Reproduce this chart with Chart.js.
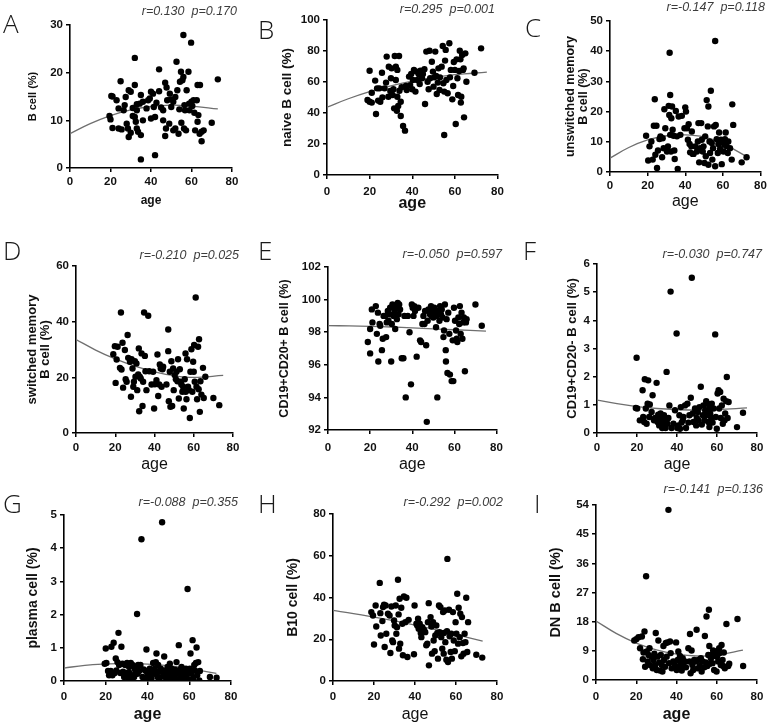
<!DOCTYPE html>
<html lang="en">
<head>
<meta charset="UTF-8">
<title>B cell subsets vs age</title>
<script src="https://cdn.jsdelivr.net/npm/chart.js"></script>
<style>
  body { margin: 0; background: #fff; }
  #fig { position: relative; width: 770px; height: 726px; overflow: hidden; }
  #fig canvas { position: absolute; }
</style>
</head>
<body>
<div id="fig">
  <canvas id="cA"></canvas><canvas id="cB"></canvas><canvas id="cC"></canvas>
  <canvas id="cD"></canvas><canvas id="cE"></canvas><canvas id="cF"></canvas>
  <canvas id="cG"></canvas><canvas id="cH"></canvas><canvas id="cI"></canvas>
</div>
<script>
// --- data (age, percentage) ---
var ageA = [19.5,20.4,21,20,21,23,24,24,25,25.5,26.5,27,27.5,28,28.6,29,29,30,30,31,31,32,32,32,32.5,33,33,33,33.6,34.4,35,35,35,36,36,37.8,38.6,39.4,40,40,41,41.4,42,42,42.7,44,44,45,46,46,47,47,47.4,47.7,48,49,49.3,49.8,50,51,51,52,52,52.6,53,53.6,54,54.3,54.8,55,55.5,56,56,56.3,56.5,56.8,57.3,57.6,58.5,58.8,59,59.8,60,60.4,61,61.4,61.8,62.6,63,63,63.4,64,64.2,65,65,66,70,73];
var valA = [10.9,15.1,15,10.2,8.4,14.2,8.3,12.5,18.2,8.1,12.1,13.2,14.9,9.3,8.3,6.5,16.3,16,7.4,10.9,12.6,23.1,17.4,10.7,9.7,8.3,13.4,12.1,7.6,13.5,6.9,1.8,15.3,10,13.9,12.5,14.2,14.6,16,10.4,15.6,12.8,2.7,10.7,13.7,16.1,20.7,12.7,10,12.1,6.7,17.9,8.3,16.9,14.2,9.3,15.6,14.4,12.8,7.9,13.9,14.9,8.3,22.3,16.3,7.2,12.3,18.1,20.2,9.5,18.4,27.9,19.1,8.3,13.2,12.1,7.9,16.3,20.2,13.5,12.1,26.3,13.9,13,14.2,11.6,7.9,14.2,9.7,17.4,11.1,7.2,17.4,7.6,5.6,7.9,9.5,18.6];

var ageB = [20,19,20,21,21,22.6,23,23.5,24,24.6,25,25.8,26,27,27.7,28,28.8,29,29.7,30,30.3,30.8,31.2,31.5,31.8,32.3,32.3,32.8,33,33,33.4,33.8,34,34.6,34.6,35,35.7,36.6,37,37.4,38.5,39,39.5,40,40.3,40.8,41.5,42,42.3,43,43.5,43.8,44.6,45,45.7,46,46.6,47.2,47.7,48.1,48.4,49.2,49.7,50,50.3,50.8,51.2,51.5,52,52.3,52.8,53,53.8,54.3,54.6,55,55,55.4,55.7,56,56.6,57.4,57.7,58.1,58.8,59.2,59.5,60,60.4,60.8,61.2,61.5,62,62.3,62.6,62.8,63,63.4,63.8,64.1,64.3,64.9,65.4,69.2,72.3];
var valB = [67.3,48.4,47.3,53.1,46.7,60.9,39.4,55.9,48,55.9,47.3,66,50.1,55.9,59.6,76.4,50.5,69.9,54.2,62.4,68.8,51.6,55.3,43,76.8,69.9,61.3,41.5,67.8,50.5,44.5,76.8,54.4,47.3,38.1,56.6,31.6,28.6,57.4,54.8,63.5,58,65.2,55.3,61.3,67.8,53.8,66.7,61.3,65.2,58.7,67.3,62.4,65.2,68.2,45.8,79.6,60.2,55.3,80.2,62.4,73.1,66.7,57,63,79.6,63.9,52.3,59.6,68.8,54.8,63,69.9,83.2,59.2,53.8,25.8,73.8,80.7,61.3,52.7,85,63,67.8,48.8,57.4,72.9,67.8,32.9,74.6,62.4,51.6,67.1,80.2,74.6,46.7,50.5,77.4,67.8,68.8,37.2,78.5,60.2,66,81.7];

var ageC = [19.2,20.3,21,22,22.7,23.3,23.8,24.1,24.7,25,25.5,26.3,26.8,27.7,28,28.5,28.9,29.4,29.8,30.3,30.8,31.2,31.5,31.7,32,32,32.4,32.6,33,33.3,33.8,34.2,34.4,35,35.6,36,36.5,37.4,38.2,39.6,40,40.4,40.9,41.4,41.8,42.3,42.6,43.2,43.5,44,44.4,45.3,46.2,46.7,47,47.4,47.9,48.5,48.8,49.3,49.7,50.2,50.6,50.9,51.4,52,52.3,52.3,52.9,53.2,53.6,54.1,54.4,54.8,55.3,55.9,55.9,56.2,56.7,57.3,57.6,58,58.5,59,59.4,59.7,60.3,60.8,61.1,61.5,62,62.6,62.9,63.8,64.7,65,65.5,70,72.6];
var valC = [12,3.8,8.5,10.1,4.1,15.3,24.1,5.7,15.3,1.3,7.1,10.9,11.8,4.9,11.2,7.9,20.8,14.5,7.6,6.8,8.5,21.9,18.9,39.5,25.5,12.3,6.8,17.8,21.7,14,12,7.1,4.3,20.2,11.8,1,18.4,12.3,18.6,14.5,21.4,20,14.5,10.7,15.8,9.3,6.5,8.5,13.4,6,6,8.5,6.8,10.1,16.2,3.2,7.9,16.2,10.7,6.8,8.5,3,11.8,5.2,23.8,15.1,21.7,2.4,10.1,6.3,26.9,9.6,4.1,7.9,15.1,43.4,1.9,15.6,10.9,6.3,9.3,13.1,7.6,10.7,2.6,9.8,6.8,9,10.9,13.1,8.5,6.3,10.1,7.9,4.1,22.4,15.6,3.2,4.9];

var ageD = [19,19.8,20.2,20.7,21.2,22.4,22.9,23.2,23.7,24,24.9,25.3,25.8,26.3,26.6,27.5,28,28.3,28.8,29.2,29.5,30,30.3,30.8,31.2,31.7,32,32.2,32.5,33,33.4,33.9,34.2,34.7,35.1,35.4,35.9,36.8,37.3,38.5,39.3,39.8,40.2,41,41.5,41.9,42.4,42.7,43.2,43.6,44.1,44.4,46.1,47,47,47.3,47.8,48.1,48.6,49,49.5,49.8,50.3,50.9,51.2,51.7,52,52.4,52.9,53.2,53.7,54.2,54.6,54.9,55.4,55.8,55.9,56.3,56.6,57.1,57.6,58,58.3,58.8,59.3,59.7,60,60.2,60.5,61,61.4,61.7,62.2,62.5,62.7,63.1,63.4,63.9,64.7,65.1,65.9,70,73];
var valD = [28.3,31.2,18,26.4,31,23.4,43.3,22.8,32.4,16.3,29.8,19.3,18.4,35.2,27,25.6,13,26.5,23.2,16.6,18.4,25.8,20.2,25,15.4,21,30.4,7.8,20.2,19.6,28.6,9.7,18.4,43.3,27.7,22.2,15.4,42.1,22.2,17.4,22,8.8,17.5,19,28.2,13.3,17.4,24.6,23.2,16.6,22.9,23.8,17.4,37.2,29.4,11.4,22,9.4,25.8,9.7,23.2,15.4,20.8,19.3,22,18.6,26.5,12.4,22.9,18.4,17.4,14.8,16.6,8.8,19.3,28.6,14.8,12.1,26.5,16.6,15.4,5.4,22,30.1,14.8,25.6,22,31.6,18.4,48.7,16.6,12.1,31,15.7,33.7,7.6,18.6,13.8,23.4,12.6,20.2,12.6,10];

var ageE = [18.9,20,20,20.8,21.1,22.7,23.2,23.7,23.9,24.5,24.8,25.6,26,26.4,27.1,27.6,27.9,28.4,28.7,29.2,29.5,30,30.3,30.6,31.1,31.6,31.9,32.3,32.7,33.1,33.5,33.8,34.2,35,35.8,36.3,36.9,37.9,38.7,39.4,39.8,40.2,40.6,41,41.3,42.1,42.9,43.7,44.2,44.8,45.3,45.8,46.1,46.6,46.9,47.3,47.7,48.4,48.9,49.2,49.7,50,50.5,50.8,51.3,51.6,51.9,52.4,52.9,53.2,53.6,54,54.4,54.8,55.1,55.5,55.9,56,56.3,56.7,57.1,57.6,57.9,58.7,59.2,59.5,59.8,60.3,60.8,61.1,61.4,61.9,62.3,62.6,63,63.4,63.8,64.2,64.5,65,65.5,65.8,70,73];
var valE = [97.4,98.2,96.7,99.4,98.6,99.6,97.9,99.2,96.2,98.5,98.4,96.9,97.6,99,99,97.7,98.6,99.3,98.7,99.1,99.5,96.2,98.5,99.7,99,99.3,98.2,99.5,98.8,99.8,99.1,99.7,99.4,96.4,96.4,99,94,99,98,94.8,99.7,99.5,99,99.6,99.3,96.5,99.5,97.5,97.4,98.5,99,98.5,99.3,97.2,92.5,98.7,99.4,99.1,99.6,99,99.4,98.9,99.5,99.2,98.3,99,94,99.3,98.7,99.6,99.1,99.4,98.9,97.7,98.1,99.7,96.9,96.2,98.8,95.5,99.2,97.9,95.4,95,97.5,95,99.5,98.7,98.1,97.6,97.4,98.9,98.5,99.6,97.9,99.2,97.6,98.6,98.9,95.6,98.6,98.8,99.7,98.4];

var ageF = [19.8,19.4,20.1,21.4,22.8,23.1,23.6,23.9,24.4,24.8,25.3,25.6,26.1,26.4,27.3,27.8,28.5,29,29.8,30.3,30.6,31.1,31.5,31.8,32.3,32.6,33.1,33.5,34,34.3,34.8,35.2,35.7,36.2,36.8,37.3,38.2,39,39.8,40.2,40.7,41.2,41.5,41.9,42.3,42.9,43.2,44,44.5,45.2,45.7,46.2,46.9,47.4,47.9,48.2,49,49.6,49.9,50.4,50.7,51.2,51.9,52.4,52.9,53.2,53.7,54.1,54.6,54.9,55.2,55.7,56.1,56.2,56.6,57.1,57.4,57.8,58.3,59.1,59.4,59.9,60.3,60.8,61.1,61.6,61.9,62.4,62.9,63.3,63.8,64.1,64.6,64.9,65.3,65.8,70,73];
var valF = [2.67,0.89,0.87,0.45,1.52,0.57,0.39,1.91,0.87,0.33,1.04,1.87,0.57,1.01,0.75,1.34,0.45,0.53,1.78,0.39,0.65,0.27,0.53,0.69,0.33,0.18,0.51,0.63,0.39,0.18,2.17,0.33,0.53,0.98,5.02,0.18,0.33,0.81,3.53,0.18,0.27,0.63,0.15,0.92,0.37,0.45,0.57,0.98,0.18,1.04,0.37,0.63,1.25,5.51,0.69,0.39,0.87,0.27,0.53,0.75,0.45,0.92,1.64,0.3,0.63,0.98,0.45,0.81,1.13,0.63,1.04,0.39,0.87,0.21,0.69,0.53,1.04,0.37,0.87,3.5,0.57,0.15,1.4,1.52,0.87,1.46,0.53,0.98,0.33,1.22,0.45,0.69,1.13,1.99,0.53,1.1,0.21,0.72];

var ageG = [19.5,20,20.3,21.1,21.6,22.4,22.7,23.2,23.8,24.3,24.8,25.1,25.6,26.1,26.4,27,27.5,28,28.3,28.8,29.3,29.9,30.2,30.7,31.2,31.5,32,32.3,32.8,33.1,33.6,33.9,34.4,35,35.2,35.5,36,36.6,37.1,37.6,38.2,38.7,39.2,39.5,40,40.3,40.8,41.1,41.6,41.9,42.4,42.7,43.2,43.5,44,44.3,44.8,45.1,45.6,45.9,46.4,47,47.5,48,48.3,48.8,49.1,49.6,49.9,50.4,50.7,51.2,51.5,52,52.3,52.8,53.1,53.6,53.9,54.4,54.7,55,55.5,55.8,56.3,56.6,57.1,57.6,57.9,58.4,58.7,59.2,59.5,60,60.3,60.6,61.1,61.6,61.9,62.4,62.7,63.2,63.5,63.8,64.3,64.8,65.1,69.9,73.1];
var valG = [0.52,0.98,0.54,0.3,0.17,0.3,1.03,0.17,1.15,0.24,0.68,0.32,0.57,1.45,0.48,0.24,1.03,0.52,0.28,0.12,0.48,0.24,0.54,0.1,0.42,0.24,0.54,0.07,0.48,0.17,0.12,0.37,0.24,2.02,0.22,0.48,0.3,0.48,4.27,0.12,0.35,0.04,0.3,0.95,0.17,0.24,0.12,0.37,0.22,0.07,0.32,0.54,0.22,0.37,0.57,0.83,0.12,0.48,0.28,0.1,0.37,4.78,0.24,0.74,0.12,0.32,0.2,0.42,0.07,0.28,0.52,0.17,0.37,0.12,0.28,0.17,0.34,0.04,0.57,0.22,0.04,1.08,0.34,0.12,0.42,0.24,0.07,0.3,0.17,0.37,0.12,2.77,0.24,0.04,0.37,0.83,0.22,1.23,0.07,0.48,0.32,0.54,1.01,0.17,0.57,0.02,0.3,0.12,0.1];

var ageH = [18.7,19.5,20,20.8,21.1,22.8,23.1,23.3,24.1,24.4,24.9,25.2,25.7,26,26.8,27.6,28,28.5,28.9,29.3,29.8,30.1,30.6,30.9,31.2,31.7,32,32.2,32.5,32.8,33.3,33.8,34.1,34.6,35.3,35.8,36.3,36.9,39.5,39.8,40.7,41.1,41.5,41.8,42.3,42.8,43.1,43.6,44.4,45,45.5,46,46.3,46.7,46.8,47.6,48,48.3,48.8,49.1,49.6,49.9,50.4,50.9,51.2,51.7,52,52.4,52.8,53.3,53.7,54,54.1,54.5,54.8,55.3,55.6,55.8,56.1,56.6,56.9,57.4,57.7,58,58.5,58.9,59.4,59.8,60.2,60.6,61,61.3,61.8,62.1,62.6,62.9,63.4,63.7,64.2,64.6,65,65.5,65.9,69.9,72.8];
var valH = [33,31.4,17.5,36.2,26.1,47,32.5,21.8,28.7,35.4,36.5,16.3,36.2,22.6,32.2,31.4,13.4,35.7,19.4,18.6,29,26.6,36.2,22.6,25.8,48.5,31.9,15.5,39.4,17.9,35.1,27.4,12.3,40.5,28.2,39.9,11.5,29.3,12.8,36.2,27.4,26.6,29.8,25,27.4,23,21,25.8,24.5,23.4,17.1,17.9,28.2,37.3,7.5,30.6,26.1,13.1,28.2,19.4,14.3,21.8,26.6,23,10.7,36.2,23.4,35.4,21,15.5,33,13.1,23,33.8,18.6,10.2,23.8,58.5,9.1,34.1,21.4,13.9,22.6,10.7,33,19.4,14.3,28.2,22.6,41.8,17.9,35.1,21,32.2,11.8,30.6,18.2,13.1,22.6,18.6,39.9,13.9,28.2,12.6,11.2];

var ageI = [19,20,21.1,21.9,22.8,23.3,23.6,24.1,24.4,24.9,25.2,25.7,26.1,26.6,26.9,27.7,28.2,28.5,29,29.4,29.7,30.2,30.5,31,31.4,31.8,32.2,32.7,33,33.5,33.8,34.3,34.7,35.1,35.5,36,36.3,36.8,37.1,37.6,38.4,39.3,39.8,40.1,40.6,40.9,41.4,41.7,42.2,42.6,43.1,43.4,44.2,44.7,45.9,46.4,46.7,47,47.5,47.9,48.3,48.8,49.7,50,50.5,50.8,51.6,52.1,52.5,53,53.8,54.1,54.6,54.9,55.3,55.8,56.1,56.3,56.6,57.1,57.4,57.9,58.2,58.7,59.1,59.6,59.9,60.2,60.7,61.2,61.5,62,62.4,62.9,63.2,63.5,64,64.8,65.7,66.2,70.3,73.1];
var valI = [12.2,12.6,13.2,9.8,13.4,6.4,8.5,15,4.1,32,8.8,5.7,7.7,9.8,4.6,7.2,3.6,6.2,8.1,4.6,14.5,3.1,7.2,12.2,5.4,2.9,7.7,4.6,2.6,10.5,6.2,4.1,11.4,7.2,11.6,52.5,5.2,11.9,8.3,3.6,5.7,4.6,11.6,3.1,6.2,8.8,4.1,7.4,5.2,2.9,6.7,4.6,5.7,3.9,9.8,5.7,14.2,2.1,9.1,4.6,3.1,6.2,5.7,15.5,3.6,6.2,4.3,6.7,2.6,5.7,3.9,13.6,5.4,19.6,4.3,7.7,21.7,10.5,5,6.7,7.7,5.2,9.1,3.1,7.4,8.8,2.6,7.2,5.7,9.8,8.3,4.6,10.8,6.2,4.3,8.5,3.6,17.3,4.3,5,18.8,4.3];

// fitted curves, read at these ages
var fitAgeShort = [0,10,20,30,40,50,60,73];
var fitAgeLong  = [0,10,20,30,40,50,60,75];
var fitA = [7.2,9.3,11.0,12.2,12.9,13.2,13.0,12.4];
var fitB = [43.7,49.2,53.8,57.5,60.5,62.9,64.7,66.4];
var fitC = [4.6,8.1,10.6,12.0,12.3,11.6,9.4,5.0];
var fitD = [33.6,29.8,26.6,24.0,22.0,20.6,20.0,20.7];
var fitE = [98.40,98.39,98.36,98.32,98.27,98.21,98.15,98.07];
var fitF = [1.17,1.04,0.94,0.87,0.83,0.81,0.83,0.89];
var fitG = [0.39,0.47,0.51,0.53,0.51,0.46,0.37,0.23];
var fitH = [33.8,32.3,30.6,28.8,26.8,24.6,22.2,19.1];
var fitI = [18.2,14.4,11.4,9.3,8.0,7.4,7.7,9.2];

var statsText = ['r=0.130  p=0.170','r=0.295  p=0.001','r=-0.147  p=0.118',
                 'r=-0.210  p=0.025','r=-0.050  p=0.597','r=-0.030  p=0.747',
                 'r=-0.088  p=0.355','r=-0.292  p=0.002','r=-0.141  p=0.136'];

// --- layout (page pixels) ---
var cols = [{left: 0, w: 255}, {left: 255, w: 255}, {left: 510, w: 260}];
var rows = [{top: 0, h: 235}, {top: 235, h: 245}, {top: 480, h: 246}];

var panels = [
  {id:'A', col:0, row:0, ages:ageA, vals:valA, fx:fitAgeShort, fy:fitA, yMin:0, yMax:30, yStep:10,
   yTitle:'B cell (%)', ySize:11, area:[70,25,232,168], yTitleX:33, tickY:182, ageY:201, ageFont:{size:12, weight:'bold'},
   statX:237, statY:12, letterX:3, letterY:33},
  {id:'B', col:1, row:0, ages:ageB, vals:valB, fx:fitAgeLong, fy:fitB, yMin:0, yMax:100, yStep:20,
   yTitle:'naive B cell (%)', ySize:13.5, area:[327,20,500,175], yTitleX:287, tickY:192, ageY:204, ageFont:{size:16, weight:'bold'},
   statX:495, statY:10, letterX:258, letterY:39},
  {id:'C', col:2, row:0, ages:ageC, vals:valC, fx:fitAgeShort, fy:fitC, yMin:0, yMax:50, yStep:10,
   yTitle:['unswitched memory','B cell (%)'], ySize:12.5, area:[610,21,762,172], yTitleX:571, tickY:186, ageY:202, ageFont:{size:16, weight:'normal'},
   statX:765, statY:8, letterX:525, letterY:37},
  {id:'D', col:0, row:1, ages:ageD, vals:valD, fx:fitAgeLong, fy:fitD, yMin:0, yMax:60, yStep:20,
   yTitle:['switched memory','B cell (%)'], ySize:13, area:[76,266,233,433], yTitleX:32, tickY:448, ageY:465, ageFont:{size:16, weight:'normal'},
   statX:239, statY:256, letterX:3, letterY:260},
  {id:'E', col:1, row:1, ages:ageE, vals:valE, fx:fitAgeLong, fy:fitE, yMin:92, yMax:102, yStep:2,
   yTitle:'CD19+CD20+ B cell (%)', ySize:12.5, area:[328,267,497,430], yTitleX:285, tickY:448, ageY:465, ageFont:{size:16, weight:'normal'},
   statX:502, statY:255, letterX:258, letterY:260},
  {id:'F', col:2, row:1, ages:ageF, vals:valF, fx:fitAgeLong, fy:fitF, yMin:0, yMax:6, yStep:1,
   yTitle:'CD19+CD20- B cell (%)', ySize:13, area:[597,264,757,433], yTitleX:572, tickY:448, ageY:465, ageFont:{size:16, weight:'normal'},
   statX:762, statY:255, letterX:523, letterY:260},
  {id:'G', col:0, row:2, ages:ageG, vals:valG, fx:fitAgeShort, fy:fitG, yMin:0, yMax:5, yStep:1,
   yTitle:'plasma cell (%)', ySize:14, area:[64,515,231,681], yTitleX:33, tickY:697, ageY:715, ageFont:{size:16, weight:'bold'},
   statX:238, statY:503, letterX:3, letterY:513},
  {id:'H', col:1, row:2, ages:ageH, vals:valH, fx:fitAgeShort, fy:fitH, yMin:0, yMax:80, yStep:20,
   yTitle:'B10 cell (%)', ySize:14, area:[333,514,497,681], yTitleX:293, tickY:697, ageY:715, ageFont:{size:16, weight:'normal'},
   statX:503, statY:503, letterX:258, letterY:513},
  {id:'I', col:2, row:2, ages:ageI, vals:valI, fx:fitAgeShort, fy:fitI, yMin:0, yMax:54, yStep:9,
   yTitle:'DN B cell (%)', ySize:14.5, area:[596,505,757,680], yTitleX:556, tickY:697, ageY:715, ageFont:{size:16, weight:'bold'},
   statX:763, statY:490, letterX:534, letterY:513}
];

Chart.defaults.font.family = "'Liberation Sans', Arial, sans-serif";
Chart.defaults.color = '#000';

// panel letter and r / p annotation
var panelText = {
  id: 'panelText',
  afterDraw: function (chart, args, o) {
    var ctx = chart.ctx;
    ctx.save();
    ctx.textBaseline = 'alphabetic';
    ctx.textAlign = 'left';
    ctx.fillStyle = '#1a1a1a';
    ctx.font = "300 26px 'Open Sans', 'Noto Sans', sans-serif";
    ctx.fillText(o.letter, o.lx, o.ly);
    ctx.textBaseline = 'middle';
    ctx.textAlign = 'right';
    ctx.fillStyle = '#3c3c3c';
    ctx.font = "italic 12.5px 'Liberation Sans', Arial, sans-serif";
    ctx.fillText(o.stat, o.sx, o.sy);
    ctx.restore();
  }
};

function pairs(xs, ys) {
  var out = [];
  for (var i = 0; i < xs.length && i < ys.length; i++) out.push({x: xs[i], y: ys[i]});
  return out;
}

panels.forEach(function (p, idx) {
  var col = cols[p.col], row = rows[p.row];
  var canvas = document.getElementById('c' + p.id);
  canvas.width = col.w;
  canvas.height = row.h;
  canvas.style.left = col.left + 'px';
  canvas.style.top = row.top + 'px';

  var L = p.area[0] - col.left, T = p.area[1] - row.top;
  var R = p.area[2] - col.left, B = p.area[3] - row.top;
  var padLeft = p.yTitleX - col.left - p.ySize / 2;
  var yWidth = L - padLeft;
  var xBottom = p.ageY - row.top + p.ageFont.size * 1.2 / 2;
  var xHeight = xBottom - B;
  var tickPad = p.tickY - p.area[3] - 4 - 6.9;

  new Chart(canvas, {
    type: 'scatter',
    data: {
      datasets: [
        {
          data: pairs(p.ages, p.vals),
          backgroundColor: '#000',
          borderWidth: 0,
          pointRadius: 3.2,
          order: 1
        },
        {
          type: 'line',
          data: pairs(p.fx, p.fy),
          borderColor: '#6f6f6f',
          borderWidth: 1.3,
          pointRadius: 0,
          fill: false,
          tension: 0.4,
          order: 2
        }
      ]
    },
    options: {
      responsive: false,
      animation: false,
      layout: {
        padding: {left: padLeft, top: T, right: col.w - R, bottom: row.h - xBottom}
      },
      plugins: {
        legend: {display: false},
        tooltip: {enabled: false},
        panelText: {
          letter: p.id, lx: p.letterX - col.left, ly: p.letterY - row.top,
          stat: statsText[idx], sx: p.statX - col.left, sy: p.statY - row.top
        }
      },
      scales: {
        x: {
          type: 'linear',
          min: 0, max: 80,
          ticks: {stepSize: 20, padding: tickPad, font: {size: 11.5, weight: 'bold'}, color: '#111'},
          grid: {drawOnChartArea: false, drawTicks: true, tickLength: 4, color: '#000', lineWidth: 1.5},
          border: {display: true, color: '#000', width: 1.6},
          title: {display: true, text: 'age', padding: 0, font: p.ageFont, color: '#111'},
          afterFit: function (axis) { axis.height = xHeight; }
        },
        y: {
          type: 'linear',
          min: p.yMin, max: p.yMax,
          ticks: {stepSize: p.yStep, padding: 3, font: {size: 11.5, weight: 'bold'}, color: '#111'},
          grid: {drawOnChartArea: false, drawTicks: true, tickLength: 4, color: '#000', lineWidth: 1.5},
          border: {display: true, color: '#000', width: 1.6},
          title: {display: true, text: p.yTitle, padding: 0,
                  font: {size: p.ySize, weight: 'bold', lineHeight: 1.0}, color: '#111'},
          afterFit: function (axis) { axis.width = yWidth; }
        }
      }
    },
    plugins: [panelText]
  });
});
</script>
</body>
</html>
